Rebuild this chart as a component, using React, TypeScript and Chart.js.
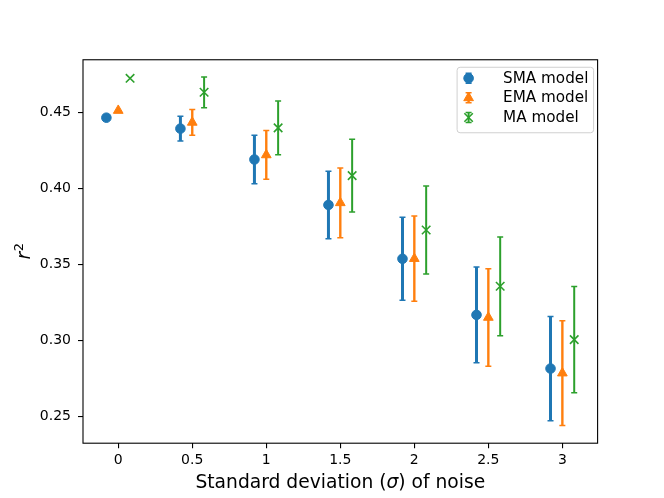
import React, { useEffect, useRef } from 'react';
import { Chart, registerables } from 'chart.js';
import { drawPoint } from 'chart.js/helpers';

Chart.register(...registerables);

// noise levels on the x axis
const sigmaLevels = [0, 0.5, 1, 1.5, 2, 2.5, 3];
const xTicks = [0, 0.5, 1, 1.5, 2, 2.5, 3];
const yTicks = [0.25, 0.3, 0.35, 0.4, 0.45];

const smaMean = [0.4467, 0.4395, 0.4192, 0.3893, 0.3539, 0.317, 0.2817];
const smaErr = [0, 0.0081, 0.0159, 0.0222, 0.0273, 0.0315, 0.0343];

const emaMean = [0.4514, 0.4436, 0.4222, 0.3907, 0.354, 0.3153, 0.2787];
const emaErr = [0, 0.0085, 0.016, 0.0229, 0.028, 0.0321, 0.0345];

const maMean = [0.4726, 0.4634, 0.44, 0.4086, 0.3728, 0.3358, 0.3007];
const maErr = [0, 0.0101, 0.0176, 0.0239, 0.0289, 0.0325, 0.0349];

const FONT = "'DejaVu Sans', sans-serif";

interface Series {
  label: string;
  mean: number[];
  err: number[];
  shift: number;
  color: string;
  pointStyle: string;
  radius: number;
  borderWidth: number;
  barWidth: number;
}

const series: Series[] = [
  { label: 'SMA model', mean: smaMean, err: smaErr, shift: -0.08, color: '#1f77b4', pointStyle: 'circle', radius: 4.8, borderWidth: 1, barWidth: 3 },
  { label: 'EMA model', mean: emaMean, err: emaErr, shift: 0, color: '#ff7f0e', pointStyle: 'triangle', radius: 5.6, borderWidth: 1, barWidth: 2.4 },
  { label: 'MA model', mean: maMean, err: maErr, shift: 0.08, color: '#2ca02c', pointStyle: 'crossRot', radius: 6, borderWidth: 1.6, barWidth: 2 },
];

const CAP = 3;

const drawBar = (ctx: CanvasRenderingContext2D, s: Series, x: number, top: number, bot: number) => {
  ctx.strokeStyle = s.color;
  ctx.lineWidth = s.barWidth;
  ctx.beginPath();
  ctx.moveTo(x, top);
  ctx.lineTo(x, bot);
  ctx.stroke();
  ctx.lineWidth = 1.5;
  ctx.beginPath();
  ctx.moveTo(x - CAP, top);
  ctx.lineTo(x + CAP, top);
  ctx.moveTo(x - CAP, bot);
  ctx.lineTo(x + CAP, bot);
  ctx.stroke();
};

const drawMarker = (ctx: CanvasRenderingContext2D, s: Series, x: number, y: number) => {
  ctx.fillStyle = s.color;
  ctx.strokeStyle = s.color;
  ctx.lineWidth = s.borderWidth;
  drawPoint(ctx, { pointStyle: s.pointStyle as any, radius: s.radius, rotation: 0, borderWidth: s.borderWidth }, x, y);
};

const errorBars = {
  id: 'errorBars',
  beforeDatasetsDraw(chart: Chart) {
    const { ctx } = chart;
    const xs = chart.scales.x;
    const ys = chart.scales.y;
    ctx.save();
    series.forEach((s) => {
      s.mean.forEach((m, i) => {
        const e = s.err[i];
        if (!e) return;
        const px = xs.getPixelForValue(sigmaLevels[i] + s.shift);
        drawBar(ctx, s, px, ys.getPixelForValue(m + e), ys.getPixelForValue(m - e));
      });
    });
    ctx.restore();
  },
};

const decorations = {
  id: 'decorations',
  afterDraw(chart: Chart) {
    const { ctx, chartArea: a } = chart;
    ctx.save();

    // frame
    ctx.strokeStyle = '#000';
    ctx.lineWidth = 1.1;
    ctx.strokeRect(a.left, a.top, a.right - a.left, a.bottom - a.top);

    // x title with italic sigma
    ctx.fillStyle = '#000';
    ctx.textBaseline = 'alphabetic';
    ctx.textAlign = 'left';
    const up = `18.7px ${FONT}`;
    const it = `italic 18.7px ${FONT}`;
    const parts: [string, string][] = [['Standard deviation (', up], ['σ', it], [') of noise', up]];
    let total = 0;
    parts.forEach(([t, f]) => { ctx.font = f; total += ctx.measureText(t).width; });
    let cx = (a.left + a.right) / 2 - total / 2;
    parts.forEach(([t, f]) => { ctx.font = f; ctx.fillText(t, cx, 488); cx += ctx.measureText(t).width; });

    // y title r^2
    ctx.save();
    ctx.translate(30, (a.top + a.bottom) / 2);
    ctx.rotate(-Math.PI / 2);
    ctx.font = it;
    const rw = ctx.measureText('r').width;
    ctx.font = `13px ${FONT}`;
    const sw = ctx.measureText('2').width;
    let lx = -(rw + sw) / 2;
    ctx.font = it;
    ctx.fillText('r', lx, 0);
    lx += rw + 0.5;
    ctx.font = `13px ${FONT}`;
    ctx.fillText('2', lx, -7);
    ctx.restore();

    // legend
    const bx = a.right - 140.5;
    const by = a.top + 7.5;
    const bw = 136.5;
    const bh = 65.5;
    ctx.beginPath();
    ctx.roundRect(bx, by, bw, bh, 3);
    ctx.fillStyle = 'rgba(255,255,255,0.8)';
    ctx.fill();
    ctx.strokeStyle = '#d0d0d0';
    ctx.lineWidth = 1;
    ctx.stroke();
    ctx.font = `15.2px ${FONT}`;
    ctx.textBaseline = 'middle';
    series.forEach((s, i) => {
      const ry = by + 11 + i * 19.6;
      const hx = bx + 11.5;
      drawBar(ctx, s, hx, ry - 5, ry + 5);
      drawMarker(ctx, s, hx, ry);
      ctx.fillStyle = '#000';
      ctx.fillText(s.label, bx + 46, ry + 0.5);
    });

    ctx.restore();
  },
};

const App: React.FC = () => {
  const canvasRef = useRef<HTMLCanvasElement | null>(null);

  useEffect(() => {
    document.body.style.margin = '0';
    if (!canvasRef.current) return;

    const chart = new Chart(canvasRef.current, {
      type: 'scatter',
      data: {
        datasets: series.map((s) => ({
          label: s.label,
          data: s.mean.map((m, i) => ({ x: sigmaLevels[i] + s.shift, y: m })),
          pointStyle: s.pointStyle as any,
          pointRadius: s.radius,
          pointHoverRadius: s.radius,
          pointBackgroundColor: s.color,
          pointBorderColor: s.color,
          pointBorderWidth: s.borderWidth,
          showLine: false,
        })),
      },
      options: {
        animation: false,
        responsive: false,
        devicePixelRatio: 1,
        layout: { padding: { top: 59.76, right: 66.4, left: 0, bottom: 0 } },
        plugins: {
          legend: { display: false },
          tooltip: { enabled: false },
        },
        scales: {
          x: {
            type: 'linear',
            min: -0.238,
            max: 3.238,
            afterBuildTicks: (scale: any) => { scale.ticks = xTicks.map((v) => ({ value: v })); },
            afterFit: (scale: any) => { scale.height = 54.8; },
            grid: { drawOnChartArea: false, drawTicks: true, tickLength: 5, color: '#000', lineWidth: 1.1 },
            border: { display: false },
            ticks: {
              color: '#000',
              font: { family: FONT, size: 14 },
              padding: 4,
              maxRotation: 0,
              autoSkip: false,
              callback: (v: any) => String(v),
            },
          },
          y: {
            type: 'linear',
            min: 0.2326,
            max: 0.4848,
            afterBuildTicks: (scale: any) => { scale.ticks = yTicks.map((v) => ({ value: v })); },
            afterFit: (scale: any) => { scale.width = 83; },
            grid: { drawOnChartArea: false, drawTicks: true, tickLength: 5, color: '#000', lineWidth: 1.1 },
            border: { display: false },
            ticks: {
              color: '#000',
              font: { family: FONT, size: 14 },
              padding: 7,
              autoSkip: false,
              callback: (v: any) => Number(v).toFixed(2),
            },
          },
        },
      },
      plugins: [errorBars, decorations],
    });

    return () => {
      chart.destroy();
    };
  }, []);

  return (
    <div style={{ width: 664, height: 498 }}>
      <canvas ref={canvasRef} width={664} height={498} />
    </div>
  );
};

export default App;
